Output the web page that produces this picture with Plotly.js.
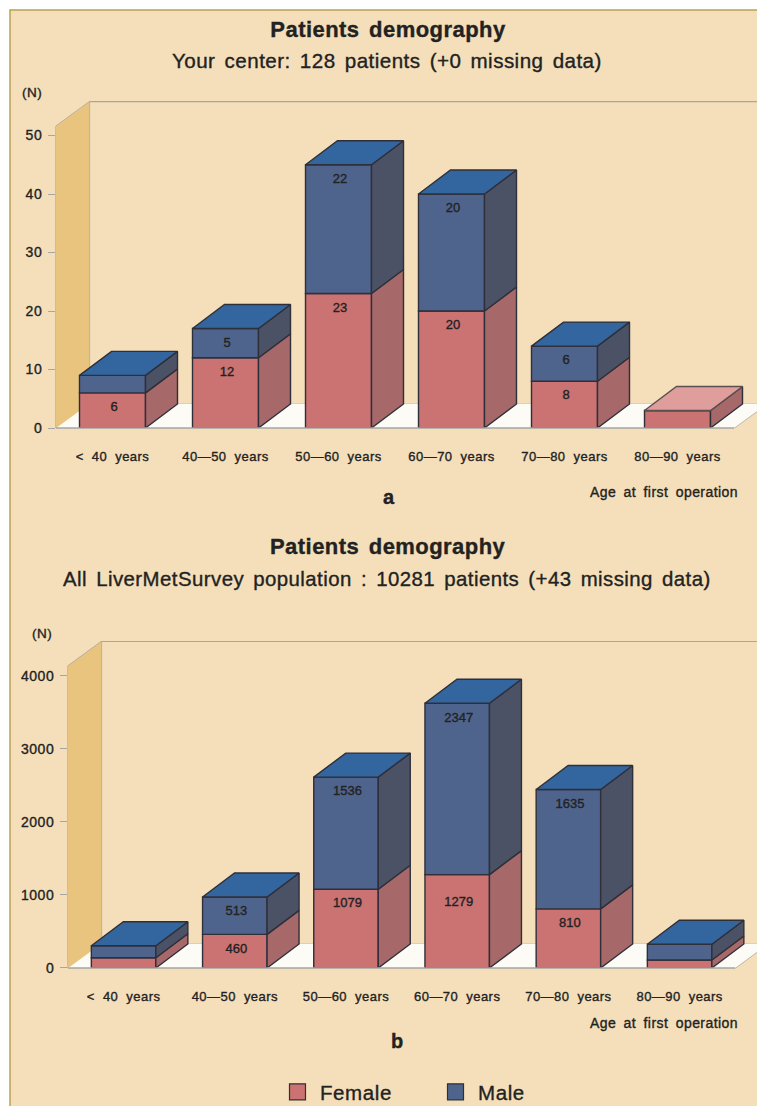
<!DOCTYPE html>
<html>
<head>
<meta charset="utf-8">
<script src="https://cdn.plot.ly/plotly-3.0.1.min.js"></script>
<style>
html,body{margin:0;padding:0;background:#fff;overflow:hidden}
#chart{width:757px;height:1106px}
.main-svg text{stroke:#222;stroke-width:.35px}
.xtick text,.x2tick text{letter-spacing:.45px;word-spacing:4px}
.ytick text,.y2tick text{letter-spacing:.5px}
.annotation-text,.gtitle{word-spacing:3px;letter-spacing:.45px}
.legendtext{letter-spacing:.6px}
</style>
</head>
<body>
<div id="chart"></div>
<script>
const categories = ['< 40 years','40—50 years','50—60 years','60—70 years','70—80 years','80—90 years'];
const femaleA = [6,12,23,20,8,3];
const maleA   = [3,5,22,20,6,0];
const femaleB = [141,460,1079,1279,810,110];
const maleB   = [164,513,1536,2347,1635,215];
const ticksA  = [0,10,20,30,40,50];
const ticksB  = [0,1000,2000,3000,4000];
const seriesNames = ['Female','Male'];
const titleMain = 'Patients demography';
const subA = 'Your center: 128 patients (+0 missing data)';
const subB = 'All LiverMetSurvey population : 10281 patients (+43 missing data)';

const W=757,H=1106;
const C={bg:'#f4dfba',frame:'#b5a450',wall:'#e8c47f',floor:'#fdfbf6',axis:'#a6a6a4',
  fFront:'#cb7272',fSide:'#a66868',fTop:'#df9e9b',mFront:'#4f648c',mSide:'#4b5266',mTop:'#33669f',edge:'#2f2f3a',ink:'#222'};
const px=v=>v/W, py=v=>1-v/H;
const FONT='"Liberation Sans", Arial, sans-serif';

const shapes=[{type:'rect',xref:'paper',yref:'paper',x0:px(10),x1:px(W+5),y0:py(10),y1:py(H+5),
  fillcolor:C.bg,line:{color:C.frame,width:1.5},layer:'below'}];
const traces=[], annotations=[];

function panel(o){
  const unitX=o.unitX, unitY=o.unitY;            // px per category, px per value
  const xa=o.n===1?'x':'x2', ya=o.n===1?'y':'y2';
  const bw=o.barPx/unitX, dX=32/unitX, dY=24/unitY;
  const wX=33.5/unitX, wY=24.5/unitY;
  const L=-0.5, R=L+6;
  const hiX=L+(W-o.left)/unitX, wallTop=o.wallTop;
  const topV=wallTop+wY;
  const idx=categories.map((_,i)=>i);
  const axX={domain:[px(o.left),1],range:[L,hiX],tickmode:'array',tickvals:idx,ticktext:categories,
    showgrid:false,zeroline:false,showline:false,ticks:'',ticklabelstandoff:o.xStand,
    tickfont:{family:FONT,size:13,color:C.ink},anchor:ya,fixedrange:true};
  const axY={domain:[py(o.zero),py(o.zero-topV*unitY)],range:[0,topV],tickmode:'array',tickvals:o.ticks,
    showgrid:false,zeroline:false,showline:false,ticks:'outside',ticklen:7,tickwidth:1.2,tickcolor:C.axis,
    ticklabelstandoff:3,tickfont:{family:FONT,size:14,color:C.ink},anchor:xa,fixedrange:true};
  // wall & floor
  const poly=(p)=>'M'+p.map(q=>q.join(',')).join('L')+'Z';
  const ref={xref:xa,yref:ya,layer:'below'};
  shapes.push({type:'path',...ref,path:poly([[L,0],[R,0],[R+wX,wY],[L+wX,wY]]),fillcolor:C.floor,line:{width:0}});
  shapes.push({type:'path',...ref,path:poly([[L,0],[L,wallTop],[L+wX,topV],[L+wX,wY]]),fillcolor:C.wall,line:{width:0}});
  const X=v=>o.left+(v-L)*unitX, Y=v=>o.zero-v*unitY;
  const ln=(a,b,c,d,w,layer)=>shapes.push({type:'line',xref:'paper',yref:'paper',x0:px(a),y0:py(b),x1:px(c),y1:py(d),
     line:{color:C.axis,width:w||1.2},layer:layer||'below'});
  ln(X(L),Y(0),X(L),Y(wallTop));
  ln(X(L),Y(wallTop),X(L+wX),Y(topV));
  ln(X(L+wX),Y(topV),X(L+wX),Y(wY));
  ln(X(L+wX),Y(topV),W+5,Y(topV));
  ln(X(L+wX),Y(wY),W+5,Y(wY));
  ln(X(R),Y(0),X(R+wX),Y(wY));
  ln(o.left,o.zero,X(R),o.zero,1.6,'above');

  const f=o.female,m=o.male;
  // front faces
  [[f,C.fFront,seriesNames[0],null],[m,C.mFront,seriesNames[1],f]].forEach(([v,col,name,base])=>{
    traces.push({type:'bar',x:idx,y:v,base:base||undefined,width:bw,xaxis:xa,yaxis:ya,name,showlegend:false,
      marker:{color:col,line:{color:C.edge,width:1.4}},hoverinfo:'y+name'});
  });
  // side & top faces, derived from the values
  const faces={fs:[[],[]],ms:[[],[]],mt:[[],[]],ft:[[],[]]};
  const add=(k,pts)=>{pts.forEach(p=>{faces[k][0].push(p[0]);faces[k][1].push(p[1]);});
    faces[k][0].push(pts[0][0],null);faces[k][1].push(pts[0][1],null);};
  idx.forEach(i=>{
    const a=i-bw/2,b=i+bw/2,h1=f[i],h2=f[i]+m[i];
    add('fs',[[b,0],[b+dX,dY],[b+dX,h1+dY],[b,h1]]);
    if(m[i]>0) add('ms',[[b,h1],[b+dX,h1+dY],[b+dX,h2+dY],[b,h2]]);
    add(m[i]>0?'mt':'ft',[[a,h2],[a+dX,h2+dY],[b+dX,h2+dY],[b,h2]]);
  });
  [['fs',C.fSide],['ms',C.mSide],['mt',C.mTop],['ft',C.fTop]].forEach(([k,col])=>{
    if(!faces[k][0].length) return;
    traces.push({type:'scatter',mode:'lines',x:faces[k][0],y:faces[k][1],fill:'toself',fillcolor:col,
      line:{color:k==='ft'?'#5a5050':C.edge,width:1.4},xaxis:xa,yaxis:ya,showlegend:false,hoverinfo:'skip',connectgaps:false});
  });
  // value labels
  const lx=[],ly=[],lt=[];
  const drop={1279:28};
  idx.forEach(i=>{
    [[f[i],f[i]],[m[i],f[i]+m[i]]].forEach(([v,top])=>{
      if(v*unitY>=25){lx.push(i+1.5/unitX);ly.push(top-(drop[v]||15)/unitY);lt.push(String(v));}
    });
  });
  traces.push({type:'scatter',mode:'text',x:lx,y:ly,text:lt,textposition:'middle center',xaxis:xa,yaxis:ya,
    textfont:{family:FONT,size:13,color:C.ink},showlegend:false,hoverinfo:'skip'});
  return [axX,axY];
}

const [xa1,ya1]=panel({n:1,left:56,zero:428,unitX:113,unitY:5.85,barPx:66,wallTop:51.6,female:femaleA,male:maleA,ticks:ticksA,xStand:19});
const [xa2,ya2]=panel({n:2,left:68,zero:968,unitX:111.2,unitY:0.073,barPx:64.5,wallTop:4137,female:femaleB,male:maleB,ticks:ticksB,xStand:19});

// legend keys
[[seriesNames[0],C.fFront],[seriesNames[1],C.mFront]].forEach(([name,col])=>{
  traces.push({type:'scatter',mode:'markers',x:[null],y:[null],name,xaxis:'x2',yaxis:'y2',
    marker:{symbol:'square',size:16,color:col,line:{color:C.edge,width:1.2}},showlegend:true});
});

function note(text,x,y,size,bold,anchor){
  annotations.push({text:bold?'<b>'+text+'</b>':text,xref:'paper',yref:'paper',x:px(x),y:py(y),
    xanchor:anchor||'center',yanchor:'middle',showarrow:false,font:{family:FONT,size,color:C.ink}});
}
note(subA,387,60,20.6);
note(titleMain,388,546,22,true);
note(subB,387,579,20.4);
note('a',389,497,20,true);
note('b',397,1041,20,true);
note('(N)',32,92,13.5);
note('(N)',42,633,13.5);
note('Age at first operation',740,492,14,false,'right');
note('Age at first operation',740,1023,14,false,'right');

Plotly.newPlot('chart',traces,{
  width:W,height:H,margin:{l:0,r:0,t:0,b:0,autoexpand:false},paper_bgcolor:'#fff',plot_bgcolor:'rgba(0,0,0,0)',
  barmode:'overlay',hovermode:'closest',
  title:{text:'<b>'+titleMain+'</b>',x:px(388),xref:'paper',xanchor:'center',y:py(29),yref:'paper',yanchor:'middle',
    font:{family:FONT,size:22,color:C.ink}},
  xaxis:xa1,yaxis:ya1,xaxis2:xa2,yaxis2:ya2,
  shapes,annotations,
  showlegend:true,
  legend:{orientation:'h',x:px(275),y:py(1072),xanchor:'left',yanchor:'top',bgcolor:'rgba(0,0,0,0)',
    font:{family:FONT,size:20.5,color:C.ink},itemwidth:35,entrywidth:108,entrywidthmode:'pixels',itemclick:false,itemdoubleclick:false}
},{displayModeBar:false});
</script>
</body>
</html>
